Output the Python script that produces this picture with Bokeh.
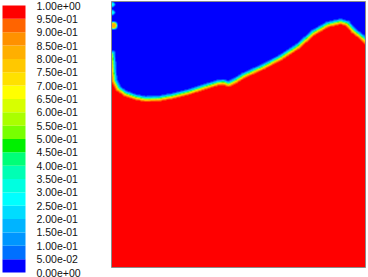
import numpy as np
from bokeh.plotting import figure
from bokeh.models import Range1d, LinearColorMapper
from bokeh.core.properties import value
from bokeh.embed import file_html
from bokeh.resources import INLINE

# ---- data (domain units, origin at bottom-left of the domain) ----
domain_w = 254
domain_h = 266

# 0.5 contour of the volume fraction; phase = 1 (red) lies below it
iface_x = [1, 2, 3, 7, 14, 24, 34, 47, 61, 77, 94, 107, 112, 117, 124, 132,
           152, 169, 186, 202, 216, 229, 236, 242, 251, 255]
iface_y = [214, 199, 187, 179, 174, 170.5, 168.5, 169, 171.5, 175.5, 181, 185,
           185.5, 183.5, 187, 192, 201, 210, 221, 235, 243, 246, 244, 237,
           230, 226]

# small droplets on the left wall
blob_x = [1.0, 1.0, 2.0]
blob_y = [263, 255, 242]
blob_r = [2.0, 2.0, 3.2]
blob_peak = [0.3, 0.3, 0.85]

levels = [round(0.05 * k, 2) for k in range(21)]
level_labels = ["%.2e" % v for v in levels]

palette = ["#0000FF", "#0070FF", "#0096FF", "#00B4FF", "#00DCFF",
           "#00FFFF", "#00FFE0", "#00FFB4", "#00FF78", "#00F000",
           "#78FF00", "#AAFF00", "#D7FF00", "#FFFF00", "#FFE100",
           "#FFC800", "#FFAF00", "#FF9100", "#FF6400", "#FF0000"]

# ---- field built from the interface ----
w = 2.0
xs = np.arange(domain_w) + 0.5
ys = np.arange(domain_h) + 0.5
X, Y = np.meshgrid(xs, ys)
px = np.array(iface_x, float)
py = np.array(iface_y, float)
ax_, ay_ = px[:-1], py[:-1]
dx, dy = px[1:] - ax_, py[1:] - ay_
P = X[..., None]
Q = Y[..., None]
t = np.clip(((P - ax_) * dx + (Q - ay_) * dy) / (dx * dx + dy * dy), 0, 1)
d = np.sqrt((P - ax_ - t * dx) ** 2 + (Q - ay_ - t * dy) ** 2).min(axis=-1)
h = np.interp(X, px, py)
sgn = np.where(Y < h, 1.0, -1.0)
phi = 0.5 * (1 + np.tanh(sgn * d / w))
for bx, by, br, bp in zip(blob_x, blob_y, blob_r, blob_peak):
    db = np.sqrt((X - bx) ** 2 + (Y - by) ** 2)
    phi = np.maximum(phi, bp * 0.5 * (1 + np.tanh((br - db) / 0.8)))

# ---- figure ----
p = figure(width=368, height=277, x_range=Range1d(-111, 257),
           y_range=Range1d(-10, 267), output_backend="svg",
           toolbar_location=None, min_border=0)
p.axis.visible = False
p.grid.visible = False
p.outline_line_color = None
p.background_fill_color = "white"
p.border_fill_color = "white"

mapper = LinearColorMapper(palette=palette, low=0, high=1)
p.image(image=[phi], x=0, y=0, dw=domain_w, dh=domain_h, color_mapper=mapper)
p.quad(left=0, right=domain_w, bottom=0, top=domain_h, fill_color=None,
       line_color="#8c8c8c", line_width=1)

# colorbar
cb_left, cb_right = -109, -86
cb_y0, cb_span = -5, 267
bottoms = [cb_y0 + cb_span * levels[k] for k in range(20)]
tops = [cb_y0 + cb_span * levels[k + 1] for k in range(20)]
p.quad(left=cb_left, right=cb_right, bottom=bottoms, top=tops,
       fill_color=palette, line_color=None)
p.text(x=[-75] * 21, y=[cb_y0 + cb_span * v for v in levels],
       text=level_labels, text_font=value("Liberation Sans"),
       text_font_size="10.5px", text_baseline="middle", text_align="left",
       text_color="#111111")

open("out.html", "w").write(file_html(p, INLINE))
